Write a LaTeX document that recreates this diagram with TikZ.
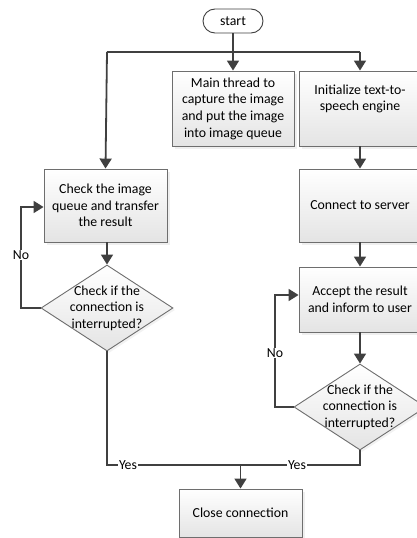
\documentclass[tikz,border=0pt]{standalone}
\usepackage{fontspec}
\setmainfont{Carlito}
\usetikzlibrary{shapes.geometric,shapes.misc,arrows.meta,shadows}
\definecolor{edge}{HTML}{6E6E6E}
\definecolor{flow}{HTML}{404040}
\definecolor{boxtop}{HTML}{FFFFFF}
\definecolor{boxbot}{HTML}{E4E4E4}
\tikzset{
  every node/.style={font=\fontsize{13.8}{16.6}\selectfont},
  procbox/.style={rectangle, draw=edge, line width=0.9pt,
    top color=boxtop, bottom color=boxbot, align=center, inner sep=0pt,
    drop shadow={shadow xshift=2.5pt, shadow yshift=-2.5pt, fill=black!12}},
  termbox/.style={rounded rectangle, draw=black!75, line width=0.9pt,
    fill=white, minimum width=60pt, minimum height=24pt, inner sep=0pt},
  decision/.style={diamond, draw=edge, line width=0.9pt,
    top color=boxtop, bottom color=boxbot, inner sep=0pt,
    minimum width=132pt, minimum height=86pt,
    drop shadow={shadow xshift=2pt, shadow yshift=-2pt, fill=black!10}},
  dtext/.style={align=center, inner sep=0pt},
  flowline/.style={draw=flow, line width=1.8pt, -{Triangle[length=10pt,width=12pt]}},
  plainline/.style={draw=flow, line width=1.8pt},
  branch/.style={fill=white, inner sep=1pt}
}
\begin{document}
\begin{tikzpicture}[x=1pt,y=-1pt]
\useasboundingbox (0,0) rectangle (417,538);

% terminal and process boxes
\node[termbox] (start) at (233,21) {start};
\node[procbox, minimum width=122pt, minimum height=75pt] (capture) at (233,108.5)
  {Main thread to\\capture the image\\and put the image\\into image queue};
\node[procbox, minimum width=122pt, minimum height=75pt] (tts) at (360,108.5)
  {Initialize text-to-\\speech engine\\[5pt]};
\node[procbox, minimum width=123pt, minimum height=73pt] (check) at (105.5,205.5)
  {Check the image\\queue and transfer\\the result};
\node[procbox, minimum width=122pt, minimum height=73pt] (server) at (360,205.5)
  {Connect to server};
\node[procbox, minimum width=122pt, minimum height=65pt] (accept) at (360,299.5)
  {Accept the result\\and inform to user};
\node[procbox, minimum width=123pt, minimum height=48pt] (close) at (240.5,513)
  {Close connection};

% decisions
\node[decision] (dleft) at (107,308) {};
\node[dtext] (dlefttext) at (dleft) {Check if the\\connection is\\interrupted?};
\node[decision] (dright) at (360,407) {};
\node[dtext] (drighttext) at (dright) {Check if the\\connection is\\interrupted?};

% junction points
\coordinate (split) at (233,52);
\coordinate (splitL) at (107,52);
\coordinate (splitR) at (360,52);
\coordinate (loopL) at (21,308);
\coordinate (loopLtop) at (21,207);
\coordinate (loopR) at (275,407);
\coordinate (loopRtop) at (275,295);
\coordinate (joinL) at (107,465);
\coordinate (joinR) at (360,465);
\coordinate (joinM) at (240.5,465);

% fan-out from start
\draw[plainline] (start.south) -- (split);
\draw[plainline] (splitL) -- (splitR);
\draw[flowline] (split) -- (capture.north);
\draw[flowline] (splitR) -- (tts.north);
\draw[flowline] (splitL) -- (check.north);

% right column
\draw[flowline] (tts.south) -- (server.north);
\draw[flowline] (server.south) -- (accept.north);
\draw[flowline] (accept.south) -- (dright.north);

% left column
\draw[flowline] (check.south -| dleft.north) -- (dleft.north);

% "No" loops
\draw[flowline] (dleft.west) -- (loopL) -- (loopLtop) -- (loopLtop -| check.west);
\node[branch] (noL) at (21,255) {No};
\draw[flowline] (dright.west) -- (loopR) -- (loopRtop) -- (loopRtop -| accept.west);
\node[branch] (noR) at (275,353) {No};

% "Yes" branches join to close
\draw[plainline] (dleft.south) -- (joinL) -- (joinR) -- (dright.south);
\draw[flowline] (joinM) -- (close.north);
\node[branch] (yesL) at (128,465) {Yes};
\node[branch] (yesR) at (297,465) {Yes};
\end{tikzpicture}
\end{document}
